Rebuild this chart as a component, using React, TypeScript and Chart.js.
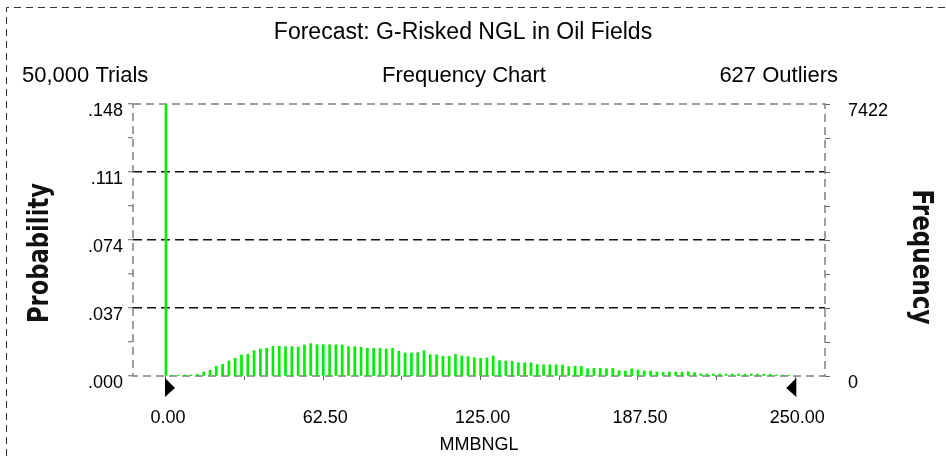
import React, { useEffect, useRef } from 'react';
import { Chart, registerables } from 'chart.js';

Chart.register(...registerables);

const chartTitle = 'Forecast: G-Risked NGL in Oil Fields';
const chartSubtitle = 'Frequency Chart';
const trialCount = 50000;
const outlierCount = 627;
const maxFrequency = 7422;
const xAxisTitle = 'MMBNGL';
const leftAxisTitle = 'Probability';
const rightAxisTitle = 'Frequency';

const binValues = [
  0, 2.5, 5, 7.5, 10, 12.5, 15, 17.5, 20, 22.5,
  25, 27.5, 30, 32.5, 35, 37.5, 40, 42.5, 45, 47.5,
  50, 52.5, 55, 57.5, 60, 62.5, 65, 67.5, 70, 72.5,
  75, 77.5, 80, 82.5, 85, 87.5, 90, 92.5, 95, 97.5,
  100, 102.5, 105, 107.5, 110, 112.5, 115, 117.5, 120, 122.5,
  125, 127.5, 130, 132.5, 135, 137.5, 140, 142.5, 145, 147.5,
  150, 152.5, 155, 157.5, 160, 162.5, 165, 167.5, 170, 172.5,
  175, 177.5, 180, 182.5, 185, 187.5, 190, 192.5, 195, 197.5,
  200, 202.5, 205, 207.5, 210, 212.5, 215, 217.5, 220, 222.5,
  225, 227.5, 230, 232.5, 235, 237.5, 240, 242.5, 245, 247.5,
];

const frequencies = [
  7422, 18, 22, 26, 32, 45, 109, 156, 265, 319,
  409, 483, 573, 592, 690, 737, 756, 811, 810, 800,
  799, 791, 846, 881, 854, 853, 852, 850, 846, 800,
  798, 783, 756, 754, 752, 737, 756, 674, 628, 626,
  636, 690, 581, 579, 538, 536, 592, 546, 527, 499,
  483, 491, 546, 418, 409, 401, 363, 361, 360, 308,
  307, 306, 305, 300, 254, 265, 263, 199, 210, 208,
  199, 204, 145, 136, 191, 164, 136, 134, 109, 101,
  109, 108, 107, 117, 90, 58, 55, 54, 56, 52,
  55, 53, 50, 52, 49, 50, 48, 30, 25, 20,
];

const xTickValues = [0, 31.25, 62.5, 93.75, 125, 156.25, 187.5, 218.75, 250];
const xTickLabels = ['0.00', '', '62.50', '', '125.00', '', '187.50', '', '250.00'];
const probTickLabels = ['.000', '', '.037', '', '.074', '', '.111', '', '.148'];
const freqTickLabels = ['0', '', '', '', '', '', '', '', '7422'];
const certaintyBounds = [0, 250];
const xRange = [-13.1, 261.8];

const FONT = '"Liberation Sans", Arial, sans-serif';
const BAR_GREEN = '#00ee00';

const maxProb = maxFrequency / trialCount;

const decorPlugin = {
  id: 'decor',
  beforeDraw(chart: any) {
    const { ctx } = chart;
    ctx.save();
    ctx.strokeStyle = '#333';
    ctx.lineWidth = 1;
    ctx.setLineDash([7, 5]);
    ctx.beginPath();
    ctx.moveTo(6.5, chart.height);
    ctx.lineTo(6.5, 7.5);
    ctx.lineTo(chart.width, 7.5);
    ctx.stroke();
    ctx.restore();
  },
  beforeDatasetsDraw(chart: any) {
    const { ctx, chartArea: a } = chart;
    ctx.save();
    ctx.strokeStyle = '#808080';
    ctx.lineWidth = 1.5;
    ctx.setLineDash([8, 5]);
    ctx.strokeRect(a.left, a.top, a.right - a.left, a.bottom - a.top);
    ctx.restore();
  },
  afterDraw(chart: any) {
    const { ctx, chartArea: a } = chart;
    ctx.save();
    ctx.fillStyle = '#000';
    ctx.textBaseline = 'middle';
    ctx.font = `23px ${FONT}`;
    ctx.textAlign = 'center';
    ctx.fillText(chartTitle, 463, 33);
    ctx.font = `22px ${FONT}`;
    ctx.fillText(chartSubtitle, 464, 76);
    ctx.textAlign = 'left';
    ctx.fillText(`${trialCount.toLocaleString('en-US')} Trials`, 22, 76);
    ctx.textAlign = 'right';
    ctx.fillText(`${outlierCount} Outliers`, 838, 76);

    const drawRot = (text: string, x: number, y: number, angle: number, target: number) => {
      ctx.save();
      ctx.font = `bold 28px "DejaVu Sans", sans-serif`;
      const w = ctx.measureText(text).width;
      ctx.translate(x, y);
      ctx.rotate(angle);
      ctx.scale(target / w, 1);
      ctx.textAlign = 'center';
      ctx.textBaseline = 'middle';
      ctx.fillStyle = '#111';
      ctx.fillText(text, 0, 0);
      ctx.restore();
    };
    drawRot(leftAxisTitle, 41, 253, -Math.PI / 2, 140);
    drawRot(rightAxisTitle, 920, 257, Math.PI / 2, 135);

    const xs = chart.scales.x;
    const y0 = a.bottom + 2;
    ctx.fillStyle = '#000';
    const l = xs.getPixelForValue(certaintyBounds[0]);
    ctx.beginPath();
    ctx.moveTo(l - 1, y0);
    ctx.lineTo(l - 1, y0 + 19);
    ctx.lineTo(l + 9, y0 + 10);
    ctx.closePath();
    ctx.fill();
    const r = xs.getPixelForValue(certaintyBounds[1]);
    ctx.beginPath();
    ctx.moveTo(r + 1, y0);
    ctx.lineTo(r + 1, y0 + 19);
    ctx.lineTo(r - 9, y0 + 10);
    ctx.closePath();
    ctx.fill();
    ctx.restore();
  },
};

export default function App() {
  const ref = useRef<HTMLCanvasElement | null>(null);

  useEffect(() => {
    document.body.style.margin = '0';
    const canvas = ref.current;
    if (!canvas) return;
    const data = binValues.map((b, i) => ({ x: b, y: frequencies[i] }));
    const chart = new Chart(canvas, {
      type: 'bar',
      data: {
        datasets: [
          {
            data: data as any,
            yAxisID: 'yFreq',
            backgroundColor: BAR_GREEN,
            borderWidth: 0,
            barThickness: 2,
          },
        ],
      },
      plugins: [decorPlugin],
      options: {
        animation: false,
        responsive: false,
        devicePixelRatio: 1,
        layout: { padding: { top: 104, left: 0, right: 0, bottom: 0 } },
        plugins: { legend: { display: false }, tooltip: { enabled: false }, title: { display: false } },
        scales: {
          x: {
            type: 'linear',
            min: xRange[0],
            max: xRange[1],
            offset: false,
            afterBuildTicks: (s: any) => {
              s.ticks = xTickValues.map((v) => ({ value: v }));
            },
            afterFit: (s: any) => {
              s.height = 80;
            },
            grid: {
              offset: false,
              drawOnChartArea: false,
              drawTicks: true,
              tickLength: 4,
              tickColor: '#666',
              tickWidth: 1,
            },
            border: { display: false },
            ticks: {
              autoSkip: false,
              maxRotation: 0,
              padding: 27,
              labelOffset: 2,
              color: '#000',
              font: { family: FONT, size: 18 },
              callback: (_v: any, i: number) => xTickLabels[i],
            },
            title: {
              display: true,
              text: xAxisTitle,
              color: '#000',
              font: { family: FONT, size: 18 },
              padding: { top: 0, bottom: 0 },
            },
          },
          yProb: {
            type: 'linear',
            position: 'left',
            min: 0,
            max: maxProb,
            afterBuildTicks: (s: any) => {
              s.ticks = probTickLabels.map((_, k) => ({ value: (maxProb * k) / 8 }));
            },
            afterFit: (s: any) => {
              s.width = 133;
            },
            grid: {
              drawOnChartArea: true,
              color: (c: any) => (c.index === 2 || c.index === 4 || c.index === 6 ? '#111' : 'rgba(0,0,0,0)'),
              lineWidth: 1.5,
              tickLength: 5,
              tickColor: '#666',
              tickWidth: 1,
              tickBorderDash: [],
            },
            border: { display: false, dash: [9, 5] },
            ticks: {
              autoSkip: false,
              padding: 5,
              labelOffset: 7,
              color: '#000',
              font: { family: FONT, size: 18 },
              callback: (_v: any, i: number) => probTickLabels[i],
            },
          },
          yFreq: {
            type: 'linear',
            position: 'right',
            min: 0,
            max: maxFrequency,
            afterBuildTicks: (s: any) => {
              s.ticks = freqTickLabels.map((_, k) => ({ value: (maxFrequency * k) / 8 }));
            },
            afterFit: (s: any) => {
              s.width = 121;
            },
            grid: {
              drawOnChartArea: false,
              tickLength: 5,
              tickColor: '#666',
              tickWidth: 1,
            },
            border: { display: false },
            ticks: {
              autoSkip: false,
              padding: 18,
              labelOffset: 7,
              color: '#000',
              font: { family: FONT, size: 18 },
              callback: (_v: any, i: number) => freqTickLabels[i],
            },
          },
        },
      } as any,
    });
    return () => chart.destroy();
  }, []);

  return (
    <div style={{ width: 946, height: 456, background: '#fff' }}>
      <canvas ref={ref} width={946} height={456} style={{ display: 'block' }} />
    </div>
  );
}
